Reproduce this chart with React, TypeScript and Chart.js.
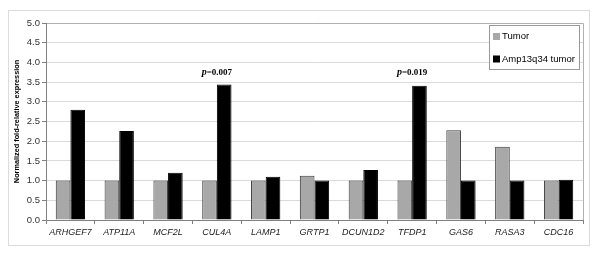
import React, { useEffect, useRef } from "react";
import { Chart, registerables } from "chart.js";

Chart.register(...registerables);

const categories = ["ARHGEF7", "ATP11A", "MCF2L", "CUL4A", "LAMP1", "GRTP1", "DCUN1D2", "TFDP1", "GAS6", "RASA3", "CDC16"];
const tumorValues = [1.0, 1.0, 1.0, 1.0, 1.0, 1.12, 1.0, 1.0, 2.28, 1.86, 1.0];
const ampValues = [2.8, 2.26, 1.2, 3.44, 1.1, 1.0, 1.27, 3.41, 1.0, 1.0, 1.02];
const seriesNames = ["Tumor", "Amp13q34 tumor"];
const annotationCategories = ["CUL4A", "TFDP1"];
const annotationLabels = ["=0.007", "=0.019"];
const annotationValues = [3.75, 3.75];
const yTitle = "Normalized fold-relative expression";

const TUMOR_COLOR = "#a8a8a8";
const AMP_COLOR = "#000000";

const framePlugin = {
  id: "frame",
  beforeDraw(chart: any) {
    const ctx = chart.ctx;
    ctx.save();
    ctx.fillStyle = "#ffffff";
    ctx.fillRect(0, 0, chart.width, chart.height);
    ctx.strokeStyle = "#dcdcdc";
    ctx.lineWidth = 1;
    ctx.strokeRect(8.5, 10.5, 581, 235);
    ctx.restore();
  },
  afterDraw(chart: any) {
    const ctx = chart.ctx;
    const a = chart.chartArea;
    ctx.save();
    ctx.strokeStyle = "#b0b0b0";
    ctx.lineWidth = 1;
    ctx.beginPath();
    ctx.moveTo(a.left, Math.round(a.top) + 0.5);
    ctx.lineTo(Math.round(a.right) + 0.5, Math.round(a.top) + 0.5);
    ctx.lineTo(Math.round(a.right) + 0.5, a.bottom);
    ctx.stroke();
    ctx.strokeStyle = "#808080";
    ctx.beginPath();
    ctx.moveTo(Math.round(a.left) + 0.5, a.top);
    ctx.lineTo(Math.round(a.left) + 0.5, Math.round(a.bottom) + 0.5);
    ctx.lineTo(a.right, Math.round(a.bottom) + 0.5);
    ctx.stroke();

    const xs = chart.scales.x;
    const ys = chart.scales.y;
    annotationCategories.forEach((cat, i) => {
      const idx = categories.indexOf(cat);
      const cx = xs.getPixelForValue(idx);
      const cy = ys.getPixelForValue(annotationValues[i]);
      const pFont = "italic bold 10px 'Liberation Serif', 'Times New Roman', serif";
      const rFont = "bold 9px 'Liberation Serif', 'Times New Roman', serif";
      ctx.font = pFont;
      const pw = ctx.measureText("p").width;
      ctx.font = rFont;
      const rw = ctx.measureText(annotationLabels[i]).width;
      const start = cx - (pw + rw) / 2;
      ctx.fillStyle = "#000";
      ctx.textBaseline = "middle";
      ctx.textAlign = "left";
      ctx.font = pFont;
      ctx.fillText("p", start, cy);
      ctx.font = rFont;
      ctx.fillText(annotationLabels[i], start + pw, cy);
    });

    const lx = 489, ly = 25, lw = 90, lh = 44;
    ctx.fillStyle = "#ffffff";
    ctx.fillRect(lx, ly, lw, lh);
    ctx.strokeStyle = "#999999";
    ctx.strokeRect(lx + 0.5, ly + 0.5, lw, lh);
    const colors = [TUMOR_COLOR, AMP_COLOR];
    const rows = [36.5, 59];
    ctx.font = "9.5px 'Liberation Sans', Arial, sans-serif";
    ctx.textBaseline = "middle";
    seriesNames.forEach((name, i) => {
      ctx.fillStyle = colors[i];
      ctx.fillRect(493, rows[i] - 3.5, 7, 7);
      ctx.fillStyle = "#000";
      ctx.fillText(name, 502, rows[i]);
    });
    ctx.restore();
  },
};

export default function App() {
  const ref = useRef<HTMLCanvasElement | null>(null);
  useEffect(() => {
    if (!ref.current) return;
    const chart = new Chart(ref.current, {
      type: "bar",
      data: {
        labels: categories,
        datasets: [
          {
            label: seriesNames[0],
            data: tumorValues,
            backgroundColor: TUMOR_COLOR,
            borderColor: "#3a3a3a",
            borderWidth: 1,
          },
          {
            label: seriesNames[1],
            data: ampValues,
            backgroundColor: AMP_COLOR,
            borderColor: "#000",
            borderWidth: 1,
          },
        ],
      },
      options: {
        animation: false,
        responsive: false,
        maintainAspectRatio: false,
        layout: { padding: { left: 0, top: 23, right: 17, bottom: 7 } },
        datasets: { bar: { categoryPercentage: 0.6, barPercentage: 1.0 } },
        plugins: { legend: { display: false }, tooltip: { enabled: false } },
        scales: {
          x: {
            grid: {
              drawOnChartArea: false,
              drawTicks: true,
              tickLength: 4,
              color: "#808080",
              offset: true,
            },
            border: { display: false },
            ticks: {
              color: "#222",
              padding: 3,
              maxRotation: 0,
              autoSkip: false,
              font: { family: "'Liberation Sans', Arial, sans-serif", size: 9, style: "italic" },
            },
            afterFit(scale: any) {
              scale.height = 30;
            },
          },
          y: {
            min: 0,
            max: 5,
            grid: {
              color: "#dadada",
              tickLength: 4,
              tickColor: "#808080",
            },
            border: { display: false },
            ticks: {
              stepSize: 0.5,
              color: "#333",
              padding: 2,
              font: { family: "'Liberation Sans', Arial, sans-serif", size: 9.5 },
              callback: (v: any) => Number(v).toFixed(1),
            },
            title: {
              display: true,
              text: yTitle,
              color: "#000",
              font: { family: "'Liberation Sans', Arial, sans-serif", size: 7.3, weight: "bold" },
              padding: { top: 13, bottom: 0 },
            },
            afterFit(scale: any) {
              scale.width = 46;
            },
          },
        },
      },
      plugins: [framePlugin],
    });
    return () => chart.destroy();
  }, []);
  return (
    <div style={{ position: "fixed", left: 0, top: 0, width: 600, height: 257, background: "#fff" }}>
      <canvas ref={ref} width={600} height={257} style={{ width: 600, height: 257, display: "block" }} />
    </div>
  );
}
